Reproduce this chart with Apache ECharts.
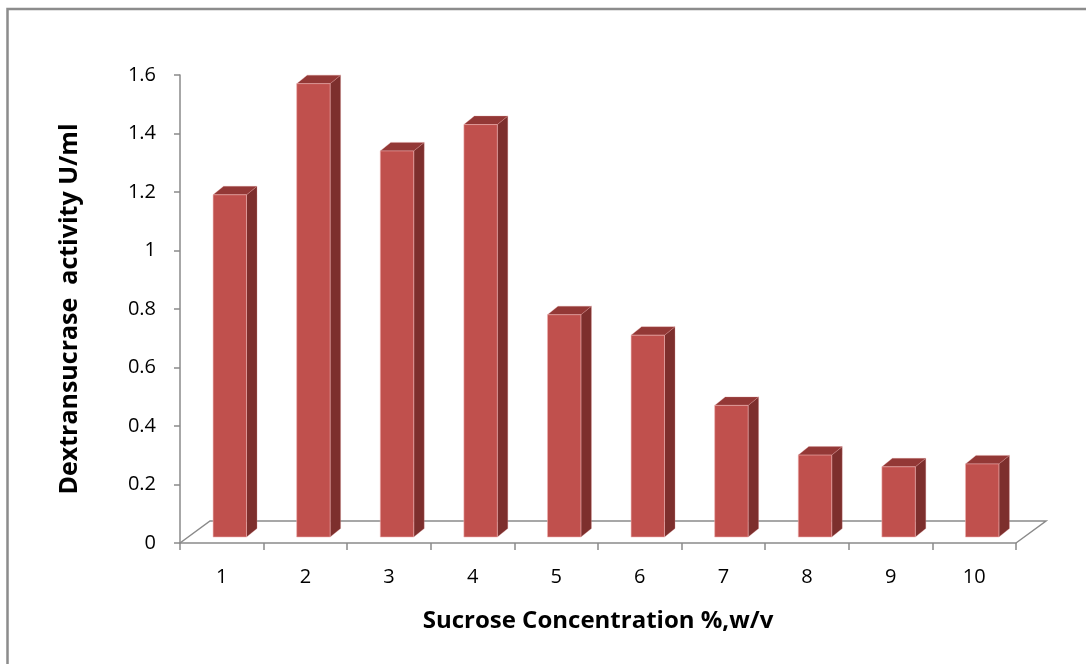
<!DOCTYPE html>
<html>
<head>
<meta charset="utf-8">
<script src="https://cdn.jsdelivr.net/npm/echarts@6/dist/echarts.min.js"></script>
<style>
  html, body { margin: 0; padding: 0; background: #fff; }
  #main { width: 1086px; height: 664px; }
</style>
</head>
<body>
<div id="main"></div>
<script>
// data
const categories = ['1', '2', '3', '4', '5', '6', '7', '8', '9', '10'];
const activity = [1.17, 1.55, 1.32, 1.41, 0.76, 0.69, 0.45, 0.28, 0.24, 0.25];

const FONT = 'Open Sans';
const axisGray = '#8a8a8a';

// 3d look
const depthX = 10.5, depthY = -8.5;   // bar side/top depth
const floorX = 30, floorY = -22;      // floor depth
const barShiftX = 8, barShiftY = -6;  // bars sit midway on the floor

const chart = echarts.init(document.getElementById('main'));

function renderBar(params, api) {
  const i = api.value(0);
  const v = api.value(1);
  const base = api.coord([i, 0]);
  const top = api.coord([i, v]);
  const catW = api.size([1, 0])[0];
  const w = catW * 0.4;
  const x0 = base[0] - w / 2 + barShiftX;
  const x1 = x0 + w;
  const yb = base[1] + barShiftY;
  const yt = top[1] + barShiftY;
  return {
    type: 'group',
    children: [
      { // side face
        type: 'polygon',
        shape: { points: [[x1, yb], [x1 + depthX, yb + depthY], [x1 + depthX, yt + depthY], [x1, yt]] },
        style: { fill: '#7d2f2d', stroke: 'rgba(220,150,150,0.5)', lineWidth: 0.6 }
      },
      { // top face
        type: 'polygon',
        shape: { points: [[x0, yt], [x1, yt], [x1 + depthX, yt + depthY], [x0 + depthX, yt + depthY]] },
        style: { fill: '#933836', stroke: 'rgba(220,150,150,0.5)', lineWidth: 0.6 }
      },
      { // front face
        type: 'rect',
        shape: { x: x0, y: yt, width: w, height: yb - yt },
        style: { fill: '#c0504d', stroke: 'rgba(240,180,180,0.7)', lineWidth: 0.8 }
      }
    ]
  };
}

function renderFloor(params, api) {
  const cs = params.coordSys;
  const xl = cs.x, xr = cs.x + cs.width, yf = cs.y + cs.height;
  return {
    type: 'polyline',
    shape: { points: [[xl, yf], [xl + floorX, yf + floorY], [xr + floorX, yf + floorY], [xr, yf]] },
    style: { fill: null, stroke: axisGray, lineWidth: 1.5 }
  };
}

chart.setOption({
  backgroundColor: '#fff',
  animation: false,
  graphic: [{
    type: 'rect',
    shape: { x: 7.5, y: 9, width: 1100, height: 700 },
    style: { fill: null, stroke: '#8c8c8c', lineWidth: 2.5 },
    silent: true
  }],
  grid: { left: 180, right: 70, top: 75, bottom: 121 },
  xAxis: {
    type: 'category',
    data: categories,
    boundaryGap: true,
    axisLine: { lineStyle: { color: axisGray, width: 1.5 } },
    axisTick: { show: true, length: 7, lineStyle: { color: axisGray, width: 1.5 } },
    axisLabel: { color: '#000', fontSize: 20, fontFamily: FONT, margin: 24 },
    name: 'Sucrose Concentration %,w/v',
    nameLocation: 'middle',
    nameGap: 66,
    nameTextStyle: { color: '#000', fontSize: 24, fontWeight: 'bold', fontFamily: FONT }
  },
  yAxis: {
    type: 'value',
    min: 0,
    max: 1.6,
    interval: 0.2,
    splitLine: { show: false },
    axisLine: { show: true, lineStyle: { color: axisGray, width: 1.5 } },
    axisTick: { show: true, length: 6, lineStyle: { color: axisGray, width: 1.5 } },
    axisLabel: { color: '#000', fontSize: 20, fontFamily: FONT, margin: 24 },
    name: 'Dextransucrase  activity U/ml',
    nameLocation: 'middle',
    nameGap: 98,
    nameRotate: 90,
    nameTextStyle: { color: '#000', fontSize: 25, fontWeight: 'bold', fontFamily: FONT }
  },
  series: [
    {
      type: 'custom',
      z: 1,
      silent: true,
      renderItem: renderFloor,
      data: [[0, 0]]
    },
    {
      type: 'custom',
      z: 3,
      renderItem: renderBar,
      encode: { x: 0, y: 1 },
      data: activity.map((v, i) => [i, v])
    }
  ]
});
</script>
</body>
</html>
